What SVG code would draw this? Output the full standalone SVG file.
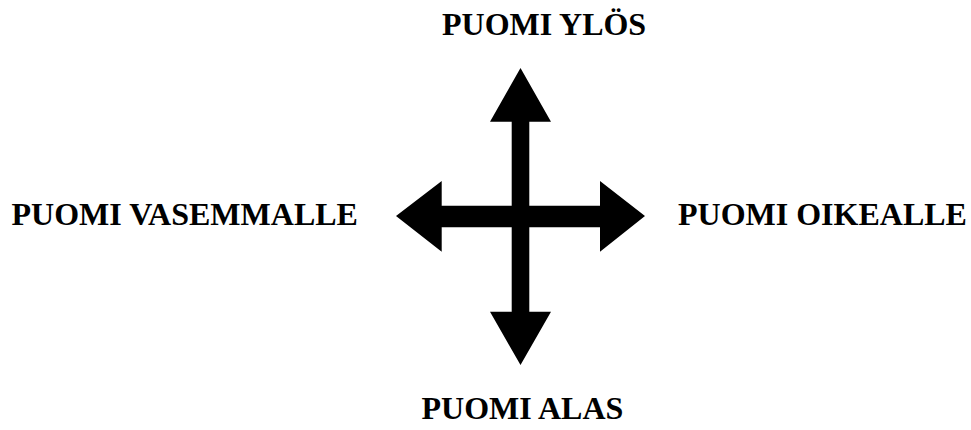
<svg xmlns="http://www.w3.org/2000/svg" width="971" height="430" viewBox="0 0 971 430">
<style>
.lbl{font-family:"Liberation Serif","Times New Roman",serif;font-weight:bold;font-size:32px;fill:#000}
.arr{fill:#000;stroke:none}
</style>
<rect width="971" height="430" fill="#fff"/>
<g id="connectors">
<polygon class="arr" points="520.5,68 551,121.7 529.3,121.7 529.3,311.7 551,311.7 520.5,365 490,311.7 511.7,311.7 511.7,121.7 490,121.7"/>
<polygon class="arr" points="396,216 441.7,181 441.7,205.7 600,205.7 600,181 645,216 600,251.7 600,227.3 441.7,227.3 441.7,251.7"/>
</g>
<g id="node-up"><text class="lbl" x="442" y="35">PUOMI YLÖS</text></g>
<g id="node-left"><text class="lbl" x="11.5" y="225">PUOMI VASEMMALLE</text></g>
<g id="node-right"><text class="lbl" x="678" y="225">PUOMI OIKEALLE</text></g>
<g id="node-down"><text class="lbl" x="421.5" y="419">PUOMI ALAS</text></g>
</svg>
